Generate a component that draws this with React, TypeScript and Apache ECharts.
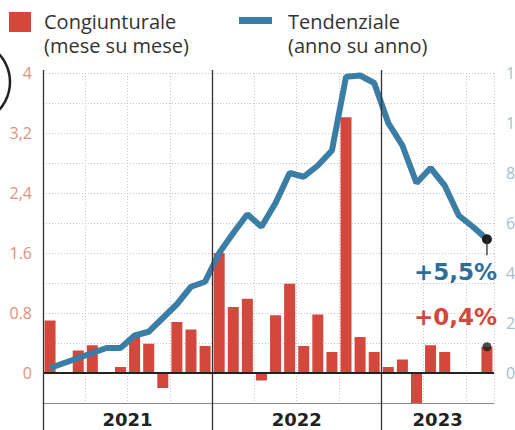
import React, { useEffect, useRef } from 'react';
import * as echarts from 'echarts';

const months = [
  '2021-01', '2021-02', '2021-03', '2021-04', '2021-05', '2021-06', '2021-07', '2021-08', '2021-09', '2021-10', '2021-11', '2021-12',
  '2022-01', '2022-02', '2022-03', '2022-04', '2022-05', '2022-06', '2022-07', '2022-08', '2022-09', '2022-10', '2022-11', '2022-12',
  '2023-01', '2023-02', '2023-03', '2023-04', '2023-05', '2023-06', '2023-07', '2023-08',
];
const years = ['2021', '2022', '2023'];

// Congiunturale (mese su mese), left axis
const congiunturale = [
  0.7, 0.0, 0.3, 0.37, 0.0, 0.08, 0.48, 0.39, -0.2, 0.68, 0.58, 0.36,
  1.6, 0.88, 0.99, -0.1, 0.77, 1.19, 0.36, 0.78, 0.28, 3.41, 0.48, 0.28,
  0.08, 0.18, -0.4, 0.37, 0.28, 0.0, 0.0, 0.35,
];
// Tendenziale (anno su anno), right axis
const tendenziale = [
  0.2, 0.4, 0.6, 0.8, 1.0, 1.0, 1.5, 1.65, 2.2, 2.75, 3.45, 3.65,
  4.8, 5.6, 6.35, 5.85, 6.8, 8.0, 7.85, 8.3, 8.9, 11.85, 11.9, 11.6,
  10.0, 9.1, 7.6, 8.2, 7.5, 6.3, 5.85, 5.35,
];

const leftTicks = [0, 0.8, 1.6, 2.4, 3.2, 4];
const leftTickLabels = ['0', '0.8', '1.6', '2,4', '3,2', '4'];
const rightTicks = [0, 2, 4, 6, 8, 10, 12];
const endLabels = ['+5,5%', '+0,4%'];
const legendNames = ['Congiunturale\n(mese su mese)', 'Tendenziale\n(anno su anno)'];

const RED = '#d3473c';
const BLUE = '#3a7ea6';
const BLUE_TEXT = '#2f6f96';
const DARK = '#222';

export default function App() {
  const ref = useRef<HTMLDivElement>(null);

  useEffect(() => {
    if (!ref.current) return;
    const chart = echarts.init(ref.current, null, { renderer: 'svg' });
    const last = months.length - 1;

    const option: any = {
      animation: false,
      backgroundColor: '#fff',
      grid: { left: 43, right: 21, top: 73, bottom: 27, containLabel: false, outerBoundsMode: 'none' },
      xAxis: {
        type: 'category',
        data: months,
        boundaryGap: true,
        axisLine: { show: true, onZero: false, lineStyle: { color: '#8a8a8a', width: 1.2 } },
        axisTick: { show: false },
        axisLabel: { show: false },
        splitLine: {
          show: true,
          interval: (i: number) => i % 3 === 0 && i % 12 !== 0,
          lineStyle: { color: '#c6c6c6', type: [1, 2], width: 1 },
        },
      },
      yAxis: [
        {
          type: 'value',
          min: -0.4,
          max: 4,
          interval: 0.4,
          position: 'left',
          axisLine: { show: false },
          axisTick: { show: false },
          axisLabel: {
            formatter: (v: number) => {
              const k = leftTicks.findIndex((t) => Math.abs(t - v) < 1e-6);
              return k >= 0 ? leftTickLabels[k] : '';
            },
            color: '#e0917c',
            fontSize: 16,
            fontFamily: 'Open Sans',
            margin: 11,
          },
          splitLine: { show: true, lineStyle: { color: '#c6c6c6', type: [1, 2], width: 1 } },
        },
        {
          type: 'value',
          min: -1.2,
          max: 12,
          position: 'right',
          axisLine: { show: false },
          axisTick: { show: false },
          splitLine: { show: false },
          axisLabel: {
            customValues: rightTicks,
            color: '#a9bccb',
            fontSize: 16,
            fontFamily: 'Open Sans',
            margin: 12,
          },
        },
      ],
      series: [
        {
          type: 'bar',
          data: congiunturale,
          barWidth: 11,
          itemStyle: { color: RED },
          z: 2,
          markLine: {
            silent: true,
            symbol: 'none',
            label: { show: false },
            lineStyle: { color: DARK, width: 2, type: 'solid' },
            data: [{ yAxis: 0 }],
          },
        },
        {
          type: 'line',
          yAxisIndex: 1,
          data: tendenziale.map((v, i) =>
            i === last ? { value: v, symbol: 'circle', symbolSize: 10, itemStyle: { color: '#1e1e1e' } } : v
          ),
          symbol: 'none',
          lineStyle: { color: BLUE, width: 6 },
          itemStyle: { color: BLUE },
          z: 3,
        },
        {
          type: 'scatter',
          data: months.map((_, i) => (i === last ? congiunturale[i] : null)),
          symbol: 'circle',
          symbolSize: 9,
          itemStyle: { color: '#1e1e1e' },
          z: 4,
        },
      ],
    };
    chart.setOption(option);

    const px = (i: number) => chart.convertToPixel({ xAxisIndex: 0 }, months[i]) as number;
    const bw = px(1) - px(0);
    const graphics: any[] = [];

    // year separators and left border
    [0, 12, 24].forEach((idx) => {
      const x = Math.round(px(idx) - bw / 2) + 0.5;
      graphics.push({
        type: 'line',
        shape: { x1: x, y1: 70, x2: x, y2: 430 },
        style: { stroke: '#333', lineWidth: 1.3 },
        z: 10,
      });
    });
    // year labels
    years.forEach((y, k) => {
      const first = k * 12;
      const lastIdx = Math.min(first + 11, last);
      const cx = (px(first) + px(lastIdx)) / 2;
      graphics.push({
        type: 'text',
        x: cx,
        y: 419,
        style: {
          text: y,
          fill: DARK,
          font: 'bold 18px "DejaVu Sans"',
          align: 'center',
          verticalAlign: 'middle',
        },
        z: 10,
      });
    });

    // end annotations
    const lx = px(last);
    const ly = chart.convertToPixel({ yAxisIndex: 1 }, tendenziale[last]) as number;
    const by = chart.convertToPixel({ yAxisIndex: 0 }, congiunturale[last]) as number;
    graphics.push({
      type: 'line',
      shape: { x1: lx, y1: ly, x2: lx, y2: ly + 16 },
      style: { stroke: '#333', lineWidth: 1.3 },
      z: 9,
    });
    graphics.push({
      type: 'text',
      x: lx + 10,
      y: ly + 33,
      style: { text: endLabels[0], fill: BLUE_TEXT, font: 'bold 23px "DejaVu Sans"', align: 'right', verticalAlign: 'middle' },
      z: 10,
    });
    graphics.push({
      type: 'text',
      x: lx + 10,
      y: by - 30,
      style: { text: endLabels[1], fill: RED, font: 'bold 23px "DejaVu Sans"', align: 'right', verticalAlign: 'middle' },
      z: 10,
    });

    // legend
    graphics.push({ type: 'rect', shape: { x: 9, y: 12, width: 22, height: 20 }, style: { fill: RED } });
    graphics.push({ type: 'rect', shape: { x: 239, y: 17, width: 33, height: 7 }, style: { fill: BLUE } });
    const legendX = [44, 288];
    legendNames.forEach((t, k) => {
      graphics.push({
        type: 'text',
        x: legendX[k],
        y: 9,
        style: { text: t, fill: '#333', font: '20px "Open Sans"', lineHeight: 24, align: 'left', verticalAlign: 'top' },
      });
    });

    // partial circle badge at the left edge
    graphics.push({
      type: 'circle',
      shape: { cx: -31, cy: 82, r: 41 },
      style: { fill: 'none', stroke: DARK, lineWidth: 2.5 },
    });

    chart.setOption({ graphic: graphics });

    return () => chart.dispose();
  }, []);

  return (
    <div
      ref={ref}
      style={{ position: 'fixed', left: 0, top: 0, width: 515, height: 430, background: '#fff' }}
    />
  );
}
